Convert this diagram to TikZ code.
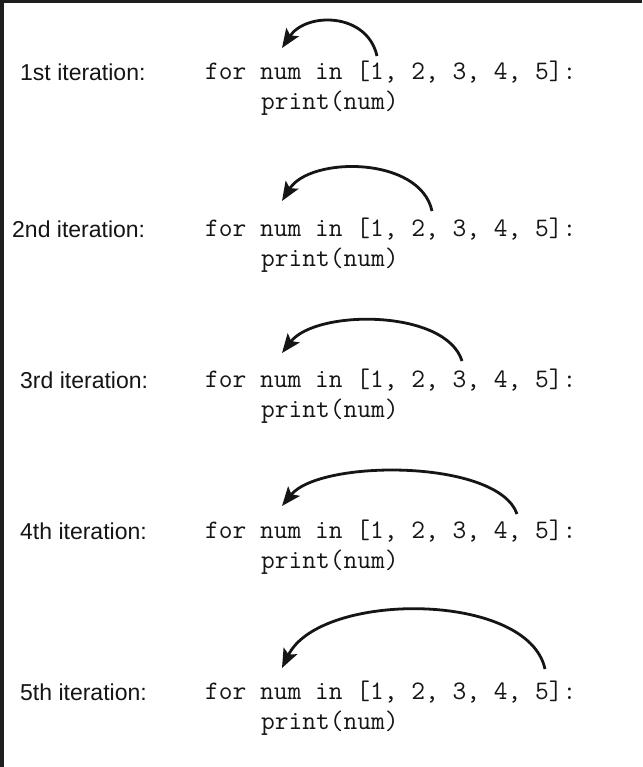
\documentclass[tikz,border=0pt]{standalone}
\usepackage{fontspec}
\setmainfont{Liberation Sans}
\usetikzlibrary{arrows.meta}
\definecolor{frame}{HTML}{1E1E1E}
\definecolor{ink}{HTML}{151515}
\tikzset{
  lbl/.style={anchor=base west, inner sep=0pt, text=ink, font=\fontsize{23}{26}\selectfont},
  code/.style={anchor=base west, inner sep=0pt, text=ink, font=\ttfamily\fontsize{26.7}{30}\selectfont},
  loop/.style={draw=ink, line width=2.8pt, -{Stealth[length=19pt, width=15pt, inset=4pt]}}
}
\begin{document}
\begin{tikzpicture}[x=1pt, y=1pt]
\useasboundingbox (0,0) rectangle (642,-767);
\fill[frame] (0,0) rectangle (642,-767);
\fill[white] (4,-3) rectangle (642,-767);

% row 1
\node[lbl]  (l1) at (20,-81)  {1st iteration:};
\node[code] (c1) at (205,-80) {for num in [1, 2, 3, 4, 5]:};
\node[code] (p1) at (261,-110) {print(num)};
\coordinate (s1) at (377,-56);
\coordinate (e1) at (282,-48);
\draw[loop] (s1) .. controls (367,-12) and (306,-12) .. (e1);

% row 2
\node[lbl]  (l2) at (12,-237)  {2nd iteration:};
\node[code] (c2) at (205,-236) {for num in [1, 2, 3, 4, 5]:};
\node[code] (p2) at (261,-266) {print(num)};
\coordinate (s2) at (432,-211);
\coordinate (e2) at (282,-201);
\draw[loop] (s2) .. controls (420,-156) and (310,-156) .. (e2);

% row 3
\node[lbl]  (l3) at (20,-388)  {3rd iteration:};
\node[code] (c3) at (205,-387) {for num in [1, 2, 3, 4, 5]:};
\node[code] (p3) at (261,-417) {print(num)};
\coordinate (s3) at (462,-361);
\coordinate (e3) at (282,-353);
\draw[loop] (s3) .. controls (446,-309) and (316,-309) .. (e3);

% row 4
\node[lbl]  (l4) at (20,-539)  {4th iteration:};
\node[code] (c4) at (205,-538) {for num in [1, 2, 3, 4, 5]:};
\node[code] (p4) at (261,-568) {print(num)};
\coordinate (s4) at (517,-514);
\coordinate (e4) at (282,-506);
\draw[loop] (s4) .. controls (498,-459) and (320,-459) .. (e4);

% row 5
\node[lbl]  (l5) at (20,-700)  {5th iteration:};
\node[code] (c5) at (205,-699) {for num in [1, 2, 3, 4, 5]:};
\node[code] (p5) at (261,-729) {print(num)};
\coordinate (s5) at (545,-669);
\coordinate (e5) at (282,-668);
\draw[loop] (s5) .. controls (528,-591) and (320,-591) .. (e5);
\end{tikzpicture}
\end{document}
